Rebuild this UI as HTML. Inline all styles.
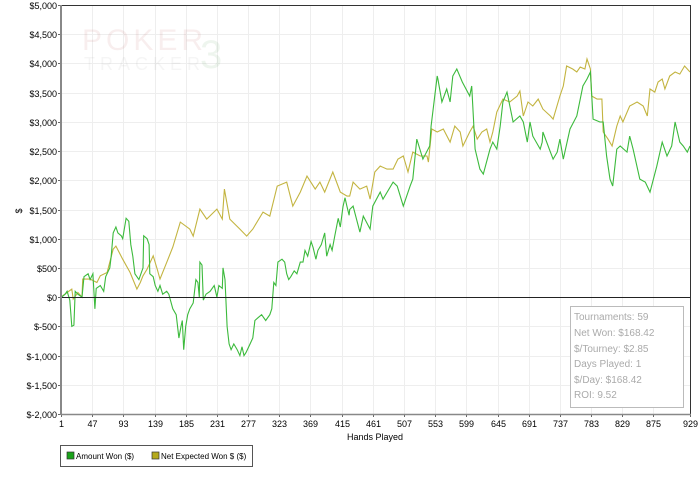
<!DOCTYPE html>
<html><head><meta charset="utf-8"><style>
body{margin:0;background:#fff;font-family:"Liberation Sans",sans-serif}
svg text{font-family:"Liberation Sans",sans-serif}
</style></head><body>
<svg width="700" height="488" viewBox="0 0 700 488">
<g id="grid"></g>
<g opacity="0.08">
<text x="82" y="50" font-family="Liberation Serif" font-size="30" fill="#a33" letter-spacing="4">POKER</text>
<text x="84" y="70" font-family="Liberation Serif" font-size="18" fill="#888" letter-spacing="5">TRACKER</text>
<text x="200" y="68" font-family="Liberation Serif" font-size="40" fill="#383">3</text>
</g>
<g id="series"></g>
<g id="axes"></g>
<text x="22" y="211" font-size="9" text-anchor="middle" transform="rotate(-90 22 211)">$</text>
<text x="375" y="440" font-size="9" text-anchor="middle">Hands Played</text>
<g>
<rect x="60.5" y="445.5" width="192" height="21" fill="#fff" stroke="#555"/>
<rect x="67" y="452" width="7" height="7" fill="#1aa31a" stroke="#333" stroke-width="0.7"/>
<text x="76" y="459" font-size="8">Amount Won ($)</text>
<rect x="152" y="452" width="7" height="7" fill="#b5aa1c" stroke="#333" stroke-width="0.7"/>
<text x="161" y="459" font-size="8">Net Expected Won $ ($)</text>
</g>
<g>
<rect x="570.5" y="306.5" width="113" height="101" fill="#fff" stroke="#bbb"/>
<text x="574" y="320" fill="#aaa" font-size="10">Tournaments: 59</text>
<text x="574" y="336" fill="#aaa" font-size="10">Net Won: $168.42</text>
<text x="574" y="352" fill="#aaa" font-size="10">$/Tourney: $2.85</text>
<text x="574" y="367" fill="#aaa" font-size="10">Days Played: 1</text>
<text x="574" y="383" fill="#aaa" font-size="10">$/Day: $168.42</text>
<text x="574" y="398" fill="#aaa" font-size="10">ROI: 9.52</text>
</g>
</svg>
<script>
const yTicks=[-2000,-1500,-1000,-500,0,500,1000,1500,2000,2500,3000,3500,4000,4500,5000];
const xTicks=[1,47,93,139,185,231,277,323,369,415,461,507,553,599,645,691,737,783,829,875,929];
const wonHands=[1,2,7,10,14,17,20,22,26,32,35,41,44,48,51,53,59,64,67,73,75,78,82,85,90,92,97,101,104,107,110,116,122,123,128,131,132,137,140,144,147,151,157,160,166,171,175,178,180,182,185,188,191,196,200,203,205,206,209,211,215,221,227,228,231,234,239,240,243,246,249,252,256,261,265,268,271,274,280,284,287,292,297,303,309,312,315,318,321,327,331,334,337,340,345,349,354,358,361,365,370,373,377,380,385,390,393,398,401,405,410,413,417,420,423,426,427,432,442,447,457,461,472,476,491,497,506,516,520,526,535,545,547,556,557,563,570,575,579,585,593,604,607,612,619,624,634,638,644,649,653,659,668,678,683,689,693,697,708,711,712,723,727,733,737,742,752,762,771,777,782,786,796,801,806,811,815,821,826,836,840,845,855,863,870,880,888,895,902,907,914,919,925,929];
const wonValues=[0,0,50,100,-50,-500,-480,100,50,0,350,400,300,400,-200,150,200,100,350,500,700,1100,1200,1100,1050,1000,1350,1300,900,700,400,300,500,1050,1000,900,400,350,200,100,200,50,100,50,-200,-300,-700,-500,-400,-900,-500,-300,-200,-100,300,250,0,600,550,-50,50,100,200,150,0,200,150,500,300,-500,-800,-900,-800,-900,-1000,-850,-1000,-950,-800,-700,-400,-350,-300,-400,-300,-200,250,200,600,650,600,400,300,350,450,400,600,600,800,700,950,850,650,800,900,1100,700,900,800,1050,1350,1200,1550,1700,1550,1400,1500,1558,1113,1387,1164,1558,1798,1678,1969,1900,1558,1900,2020,2705,2363,2586,2928,3784,3733,3339,3562,3339,3784,3904,3682,3442,3613,2534,2192,2106,2534,2654,2534,2928,3339,3510,2997,3100,2997,2654,2997,2757,2534,2654,2826,2483,2363,2483,2705,2363,2877,3100,3613,3733,3853,3048,2997,2997,2415,2020,1900,2534,2586,2483,2757,2534,2020,1969,1798,2243,2654,2415,2586,2997,2654,2586,2483,2586,3510];
const expHands=[1,10,17,19,26,32,33,44,54,59,69,78,82,92,103,113,118,122,128,137,143,147,157,166,177,191,196,206,216,231,239,242,250,265,275,284,299,309,320,334,343,354,364,376,383,390,402,413,423,427,432,442,452,457,464,472,482,491,498,506,513,520,531,541,543,548,556,565,575,582,590,594,604,609,615,622,629,634,638,641,644,653,663,674,678,683,690,697,705,712,723,727,737,742,747,756,762,767,774,777,782,784,792,799,801,808,814,821,826,830,840,851,860,866,870,877,882,888,892,899,907,914,921,929];
const expValues=[0,80,137,-34,80,0,308,308,250,365,422,822,873,650,422,137,250,365,480,708,480,308,594,856,1284,1164,1044,1507,1335,1507,1335,1849,1335,1164,1044,1164,1455,1387,1900,1969,1558,1798,2072,1849,1969,1798,2141,1798,1729,1729,1969,1849,1900,1678,2141,2243,2192,2192,2363,2415,2141,2483,2415,2415,2312,2877,2826,2877,2654,2928,2826,2586,2826,2928,2705,2826,2877,2654,2826,2997,3168,3390,3339,3442,3528,3100,3339,3271,3390,3219,3100,3048,3442,3613,3956,3904,3853,3938,3904,4075,3904,3442,3390,3390,2826,2705,2586,2928,3100,2997,3271,3339,3271,3100,3562,3510,3682,3733,3562,3784,3853,3818,3956,3853];
const L=61,R=690,T=5,B=414;
const xS=h=>L+(h-1)/(929-1)*(R-L);
const yS=v=>T+(5000-v)/7000*(B-T);
const NS='http://www.w3.org/2000/svg';
function mk(parent,tag,attrs){const e=document.createElementNS(NS,tag);for(const k in attrs)e.setAttribute(k,attrs[k]);parent.appendChild(e);return e;}
const grid=document.getElementById('grid'),axes=document.getElementById('axes'),ser=document.getElementById('series');
yTicks.forEach(v=>{const y=Math.round(yS(v))+0.5;
 const g=mk(grid,'line',{x1:L,x2:R,y1:y,y2:y,stroke:'#eee'});
 
 
 const t=mk(axes,'text',{x:57,y:y+3.5,'font-size':9,'text-anchor':'end'});t.textContent='$'+(v<0?'-':'')+Math.abs(v).toLocaleString('en-US');
 
 
 const tk=mk(axes,'line',{x1:L-3,x2:L,y1:y,y2:y,stroke:'#666'});
 
 
});
xTicks.forEach(h=>{const x=Math.round(xS(h))+0.5;
 const g=mk(grid,'line',{x1:x,x2:x,y1:T,y2:B,stroke:'#eee'});
 
 
 const t=mk(axes,'text',{x:x,y:427,'font-size':9,'text-anchor':'middle'});t.textContent=h;
 
 
 const tk=mk(axes,'line',{x1:x,x2:x,y1:B,y2:B+3,stroke:'#666'});
 
 
});
function line(hs,vs,color,name){const d=hs.map((h,i)=>(i?'L':'M')+xS(h).toFixed(1)+','+yS(vs[i]).toFixed(1)).join('');
 const p=mk(ser,'path',{d:d,fill:'none',stroke:color,'stroke-width':1.1});
 
 }
line(expHands,expValues,'#c3b440','net-expected-line');
line(wonHands,wonValues,'#3cba3c','amount-won-line');
const z=Math.round(yS(0))+0.5;
const zl=mk(axes,'line',{x1:L,x2:R,y1:z,y2:z,stroke:'#222'});


const fr=mk(axes,'path',{d:`M${L},${T+0.5}H${R+0.5}V${B}`,fill:'none',stroke:'#333'});


const ya=mk(axes,'line',{x1:L,x2:L,y1:T,y2:B+1,stroke:'#888','stroke-width':2});


const xa=mk(axes,'line',{x1:L,x2:R+1,y1:B+0.5,y2:B+0.5,stroke:'#888','stroke-width':1.5});


</script>
</body></html>
